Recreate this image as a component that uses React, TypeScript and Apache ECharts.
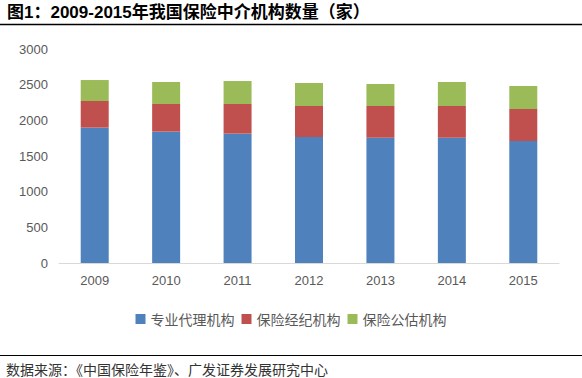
import React, { useEffect, useRef } from "react";
import * as echarts from "echarts";

const years = ["2009", "2010", "2011", "2012", "2013", "2014", "2015"];
const agency = [1897, 1841, 1813, 1766, 1757, 1757, 1710];
const brokerage = [374, 388, 416, 435, 444, 444, 449];
const adjusting = [294, 308, 322, 322, 308, 336, 322];
const seriesNames = ["专业代理机构", "保险经纪机构", "保险公估机构"];
const colors = ["#4f81bd", "#c0504d", "#9bbb59"];
const titleText = "图1：2009-2015年我国保险中介机构数量（家）";
const sourceText = "数据来源：《中国保险年鉴》、广发证券发展研究中心";

export default function App() {
  const ref = useRef<HTMLDivElement>(null);
  useEffect(() => {
    const chart = echarts.init(ref.current!, null, { renderer: "svg" });
    const values = [agency, brokerage, adjusting];
    chart.setOption({
      animation: false,
      backgroundColor: "#ffffff",
      graphic: [
        {
          type: "text",
          left: 7,
          top: 4,
          style: {
            text: titleText,
            font: "bold 17px 'Liberation Sans', 'Noto Sans CJK SC', sans-serif",
            fill: "#000",
          },
        },
        {
          type: "line",
          shape: { x1: 0, y1: 24.5, x2: 582, y2: 24.5 },
          style: { stroke: "#000", lineWidth: 1.3 },
        },
        {
          type: "line",
          shape: { x1: 0, y1: 355.5, x2: 582, y2: 355.5 },
          style: { stroke: "#000", lineWidth: 1 },
        },
        {
          type: "text",
          x: 6,
          y: 369,
          style: {
            text: sourceText,
            font: "14px 'Noto Sans CJK SC', sans-serif",
            lineHeight: 14,
            fill: "#333",
            verticalAlign: "middle",
          },
        },
      ],
      legend: {
        left: "center",
        top: 307,
        itemWidth: 10,
        itemHeight: 10,
        itemGap: 7,
        icon: "rect",
        textStyle: {
          fontSize: 14,
          color: "#595959",
          fontFamily: "'Noto Sans CJK SC', sans-serif",
        },
        data: seriesNames,
      },
      grid: { left: 59, top: 49, width: 500, height: 214, containLabel: false },
      xAxis: {
        type: "category",
        data: years,
        axisLine: { lineStyle: { color: "#d9d9d9", width: 1 } },
        axisTick: { show: false },
        axisLabel: {
          color: "#595959",
          fontSize: 13,
          fontFamily: "'Liberation Sans', Arial, sans-serif",
          margin: 11,
        },
      },
      yAxis: {
        type: "value",
        min: 0,
        max: 3000,
        interval: 500,
        axisLine: { show: false },
        axisTick: { show: false },
        splitLine: { show: false },
        axisLabel: {
          color: "#595959",
          fontSize: 13,
          fontFamily: "'Liberation Sans', Arial, sans-serif",
          margin: 11,
          formatter: (v: number) => String(v),
        },
      },
      series: seriesNames.map((name, i) => ({
        name,
        type: "bar",
        stack: "total",
        barWidth: 28,
        itemStyle: { color: colors[i] },
        data: values[i],
      })),
    });
    return () => chart.dispose();
  }, []);
  return (
    <div
      ref={ref}
      style={{ width: 582, height: 378, position: "absolute", left: 0, top: 0 }}
    />
  );
}
